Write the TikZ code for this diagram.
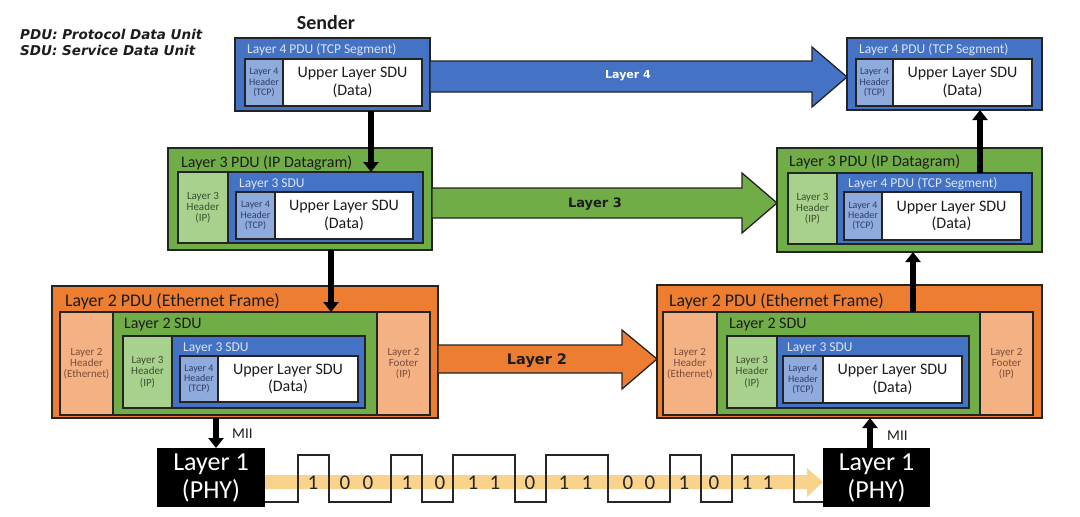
\documentclass[tikz,border=0pt]{standalone}
\usepackage{fontspec}
\setmainfont{Carlito}
\newfontfamily\vfont{DejaVu Sans}
\usetikzlibrary{arrows.meta}
\definecolor{cblue}{HTML}{4472C4}
\definecolor{clav}{HTML}{8FAADC}
\definecolor{cgreen}{HTML}{70AD47}
\definecolor{clgreen}{HTML}{A9D18E}
\definecolor{corange}{HTML}{ED7D31}
\definecolor{csalmon}{HTML}{F4B183}
\definecolor{cband}{HTML}{F9D38C}
\definecolor{cedge}{HTML}{242424}
\definecolor{ctb}{HTML}{DCE4F4}
\definecolor{chb}{HTML}{2E3F66}
\definecolor{chg}{HTML}{3D5030}
\definecolor{chs}{HTML}{7A4E3A}
\definecolor{cdark}{HTML}{1C1C1C}
\newcommand\rbox[6]{\pgfmathsetmacro\rbw{#5-(#3)}\pgfmathsetmacro\rbh{#6-(#4)}%
  \node[#1, anchor=north west, minimum width=\rbw pt, minimum height=\rbh pt] (#2) at (#3,#4) {};}
\begin{document}
\begin{tikzpicture}[x=1pt,y=-1pt,
  ob/.style={draw=cedge, line width=1.8pt, inner sep=0pt, outer sep=0pt},
  ib/.style={draw=cedge, line width=1.4pt, inner sep=0pt, outer sep=0pt},
  ttl/.style={anchor=west, inner sep=0pt},
  btitle/.style={ttl, text=ctb, font=\fontsize{13.5}{15}\selectfont},
  hd4/.style={align=center, inner sep=0pt, text=chb, font=\fontsize{10}{10.3}\selectfont},
  hd3/.style={align=center, inner sep=0pt, text=chg, font=\fontsize{11}{11.2}\selectfont},
  hd2/.style={align=center, inner sep=0pt, text=chs, font=\fontsize{11}{11.3}\selectfont},
  dat/.style={align=center, inner sep=0pt, text=cdark, font=\fontsize{16}{17.5}\selectfont},
  phy/.style={align=center, inner sep=0pt, text=white, font=\fontsize{26}{28}\selectfont},
  barrow/.style={draw=cedge, line width=1.3pt, line join=miter},
  blabel/.style={inner sep=0pt, font=\vfont\bfseries},
  varrow/.style={draw=black, line width=5.5pt, -{Triangle[width=15pt,length=10pt]}},
  digit/.style={inner sep=0pt, text=black!85, font=\fontsize{21}{21}\selectfont},
  mii/.style={anchor=west, inner sep=0pt, text=cdark, font=\fontsize{15}{15}\selectfont}
]
\useasboundingbox (0,0) rectangle (1080,517);

% legend and title
\node[anchor=west, inner sep=0pt, text=cdark, font=\vfont\bfseries\itshape\fontsize{13.5}{15}\selectfont] (leg1) at (20,34) {PDU: Protocol Data Unit};
\node[anchor=west, inner sep=0pt, text=cdark, font=\vfont\bfseries\itshape\fontsize{13.5}{15}\selectfont] (leg2) at (20,50) {SDU: Service Data Unit};
\node[inner sep=0pt, text=cdark, font=\bfseries\fontsize{20}{22}\selectfont] (sender) at (326,23) {Sender};

% ---------- Sender Layer 4
\rbox{ob, fill=cblue}{s4}{235}{38}{430}{111}
\node[btitle] (s4t) at (247,50) {Layer 4 PDU (TCP Segment)};
\rbox{ib, fill=clav}{s4h}{245}{59}{283}{106}
\rbox{ib, fill=white}{s4d}{283}{59}{422}{106}
\node[hd4] (s4ht) at (s4h) {Layer 4\\Header\\(TCP)};
\node[dat] (s4dt) at (s4d) {Upper Layer SDU\\(Data)};

% ---------- Receiver Layer 4
\rbox{ob, fill=cblue}{r4}{847}{38}{1042}{110}
\node[btitle] (r4t) at (859,50) {Layer 4 PDU (TCP Segment)};
\rbox{ib, fill=clav}{r4h}{856}{59}{893}{106}
\rbox{ib, fill=white}{r4d}{893}{59}{1032}{106}
\node[hd4] (r4ht) at (r4h) {Layer 4\\Header\\(TCP)};
\node[dat] (r4dt) at (r4d) {Upper Layer SDU\\(Data)};

% ---------- Sender Layer 3
\rbox{ob, fill=cgreen}{s3}{168}{148}{432}{250}
\node[ttl, text=cdark, font=\fontsize{16}{18}\selectfont] (s3t) at (181,163) {Layer 3 PDU (IP Datagram)};
\rbox{ib, fill=clgreen}{s3h}{178}{172}{228}{243}
\rbox{ib, fill=cblue}{s3b}{228}{172}{423}{243}
\node[btitle] (s3bt) at (239,184) {Layer 3 SDU};
\rbox{ib, fill=clav}{s3i}{236}{192}{275}{239}
\rbox{ib, fill=white}{s3d}{275}{192}{413}{239}
\node[hd3] (s3ht) at (s3h) {Layer 3\\Header\\(IP)};
\node[hd4] (s3it) at (s3i) {Layer 4\\Header\\(TCP)};
\node[dat] (s3dt) at (s3d) {Upper Layer SDU\\(Data)};

% ---------- Receiver Layer 3
\rbox{ob, fill=cgreen}{r3}{777}{148}{1042}{252}
\node[ttl, text=cdark, font=\fontsize{16}{18}\selectfont] (r3t) at (789,162) {Layer 3 PDU (IP Datagram)};
\rbox{ib, fill=clgreen}{r3h}{788}{173}{837}{244}
\rbox{ib, fill=cblue}{r3b}{837}{173}{1032}{244}
\node[btitle] (r3bt) at (848,184) {Layer 4 PDU (TCP Segment)};
\rbox{ib, fill=clav}{r3i}{844}{192}{882}{240}
\rbox{ib, fill=white}{r3d}{882}{192}{1021}{240}
\node[hd3] (r3ht) at (r3h) {Layer 3\\Header\\(IP)};
\node[hd4] (r3it) at (r3i) {Layer 4\\Header\\(TCP)};
\node[dat] (r3dt) at (r3d) {Upper Layer SDU\\(Data)};

% ---------- Sender Layer 2
\rbox{ob, fill=corange}{s2}{52}{286}{438}{418}
\node[ttl, text=cdark, font=\fontsize{17.8}{19}\selectfont] (s2t) at (65,301) {Layer 2 PDU (Ethernet Frame)};
\rbox{ib, fill=csalmon}{s2e}{60}{312}{113}{415}
\rbox{ib, fill=cgreen}{s2g}{113}{312}{377}{415}
\rbox{ib, fill=csalmon}{s2f}{377}{312}{430}{415}
\node[ttl, text=cdark, font=\fontsize{16}{18}\selectfont] (s2gt) at (124,325) {Layer 2 SDU};
\rbox{ib, fill=clgreen}{s2h}{123}{336}{172}{408}
\rbox{ib, fill=cblue}{s2b}{172}{336}{365}{408}
\node[btitle] (s2bt) at (183,348) {Layer 3 SDU};
\rbox{ib, fill=clav}{s2i}{180}{356}{218}{402}
\rbox{ib, fill=white}{s2d}{218}{356}{358}{402}
\node[hd2] (s2et) at (s2e) {Layer 2\\Header\\(Ethernet)};
\node[hd2] (s2ft) at (s2f) {Layer 2\\Footer\\(IP)};
\node[hd3] (s2ht) at (s2h) {Layer 3\\Header\\(IP)};
\node[hd4] (s2it) at (s2i) {Layer 4\\Header\\(TCP)};
\node[dat] (s2dt) at (s2d) {Upper Layer SDU\\(Data)};

% ---------- Receiver Layer 2
\rbox{ob, fill=corange}{r2}{657}{285}{1042}{418}
\node[ttl, text=cdark, font=\fontsize{17.8}{19}\selectfont] (r2t) at (669,301) {Layer 2 PDU (Ethernet Frame)};
\rbox{ib, fill=csalmon}{r2e}{663}{312}{717}{415}
\rbox{ib, fill=cgreen}{r2g}{717}{312}{980}{415}
\rbox{ib, fill=csalmon}{r2f}{980}{312}{1033}{415}
\node[ttl, text=cdark, font=\fontsize{16}{18}\selectfont] (r2gt) at (729,325) {Layer 2 SDU};
\rbox{ib, fill=clgreen}{r2h}{727}{336}{777}{408}
\rbox{ib, fill=cblue}{r2b}{777}{336}{969}{408}
\node[btitle] (r2bt) at (787,348) {Layer 3 SDU};
\rbox{ib, fill=clav}{r2i}{783}{356}{823}{403}
\rbox{ib, fill=white}{r2d}{823}{356}{962}{403}
\node[hd2] (r2et) at (r2e) {Layer 2\\Header\\(Ethernet)};
\node[hd2] (r2ft) at (r2f) {Layer 2\\Footer\\(IP)};
\node[hd3] (r2ht) at (r2h) {Layer 3\\Header\\(IP)};
\node[hd4] (r2it) at (r2i) {Layer 4\\Header\\(TCP)};
\node[dat] (r2dt) at (r2d) {Upper Layer SDU\\(Data)};

% ---------- Layer 1 boxes
\rbox{fill=black, inner sep=0pt, outer sep=0pt}{s1}{157}{448}{265}{507}
\rbox{fill=black, inner sep=0pt, outer sep=0pt}{r1}{823}{448}{930}{507}
\node[phy] (s1t) at (s1) {Layer 1\\(PHY)};
\node[phy] (r1t) at (r1) {Layer 1\\(PHY)};

% ---------- peer arrows
\draw[barrow, fill=cblue] (s4.east |- 0,61) -- (812,61) -- (812,47) -- (r4.west |- 0,77)
  -- (812,107) -- (812,92) -- (s4.east |- 0,92) -- cycle;
\node[blabel, text=white, font=\vfont\bfseries\fontsize{11}{13}\selectfont] (l4) at (628,76) {Layer 4};
\draw[barrow, fill=cgreen] (s3.east |- 0,188) -- (742,188) -- (742,173) -- (r3.west |- 0,203)
  -- (742,233) -- (742,218) -- (s3.east |- 0,218) -- cycle;
\node[blabel, text=cdark, font=\vfont\bfseries\fontsize{13}{15}\selectfont] (l3) at (595,204) {Layer 3};
\draw[barrow, fill=corange] (s2.east |- 0,345) -- (622,345) -- (622,330) -- (r2.west |- 0,359)
  -- (622,389) -- (622,373) -- (s2.east |- 0,373) -- cycle;
\node[blabel, text=cdark, font=\vfont\bfseries\fontsize{14.5}{16}\selectfont] (l2) at (537,361) {Layer 2};

% ---------- vertical arrows
\draw[varrow] (s4.south -| 371,0) -- (s3b.north -| 371,0);
\draw[varrow] (s3.south -| 331,0) -- (s2g.north -| 331,0);
\draw[varrow] (s2.south -| 216,0) -- (s1.north -| 216,0);
\draw[varrow] (r1.north -| 870,0) -- (r2.south -| 870,0);
\draw[varrow] (r2g.north -| 913,0) -- (r3.south -| 913,0);
\draw[varrow] (r3b.north -| 980,0) -- (r4.south -| 980,0);
\node[mii] (mii1) at (232,434) {MII};
\node[mii] (mii2) at (887,436) {MII};

% ---------- physical signal
\fill[cband] (s1.east |- 0,475) -- (807,475) -- (807,468) -- (r1.west |- 0,482)
  -- (807,497) -- (807,489) -- (s1.east |- 0,489) -- cycle;
\draw[line width=1.3pt, black!85] (s1.east |- 0,502) -- (298,502) -- (298,455) -- (329,455) -- (329,502)
  -- (391,502) -- (391,455) -- (422,455) -- (422,502) -- (453,502) -- (453,455) -- (515,455)
  -- (515,502) -- (546,502) -- (546,455) -- (608,455) -- (608,502) -- (670,502) -- (670,455)
  -- (701,455) -- (701,502) -- (732,502) -- (732,455) -- (794,455) -- (794,502) -- (r1.west |- 0,502);
\foreach \x/\b [count=\i] in {313/1,345/0,368/0,407/1,440/0,473/1,495/1,530/0,564/1,587/1,628/0,650/0,684/1,714/0,747/1,768/1}
  \node[digit] (d\i) at (\x,483) {\b};
\end{tikzpicture}
\end{document}
